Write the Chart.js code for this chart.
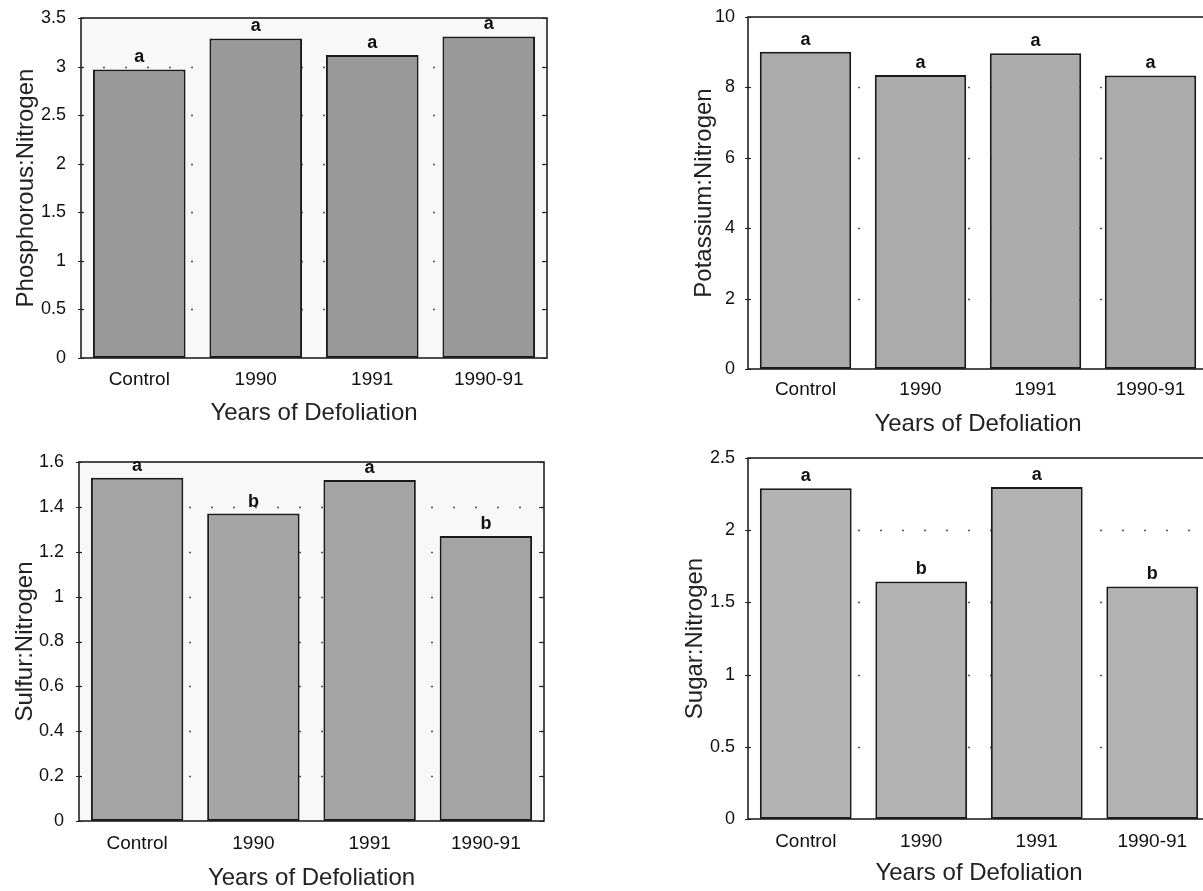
<!DOCTYPE html>
<html>
<head>
<meta charset="utf-8">
<script src="https://cdn.jsdelivr.net/npm/chart.js@4"></script>
<style>
  html, body { margin: 0; padding: 0; background: #fff; overflow: hidden; width: 1203px; height: 891px; }
  canvas { position: absolute; }
</style>
</head>
<body>
<canvas id="phos" width="600" height="440" style="left:0;top:0"></canvas>
<canvas id="pot" width="600" height="440" style="left:640px;top:0"></canvas>
<canvas id="sulf" width="600" height="451" style="left:0;top:440px"></canvas>
<canvas id="sugar" width="600" height="451" style="left:640px;top:440px"></canvas>
<script>
// ===== DATA =====
const categories = ['Control', '1990', '1991', '1990-91'];
const xTitle = 'Years of Defoliation';

const phosValues = [2.97, 3.29, 3.12, 3.31];
const phosLetters = ['a', 'a', 'a', 'a'];
const phosTicks = [0, 0.5, 1, 1.5, 2, 2.5, 3, 3.5];

const potValues = [9.01, 8.35, 8.97, 8.34];
const potLetters = ['a', 'a', 'a', 'a'];
const potTicks = [0, 2, 4, 6, 8, 10];

const sulfValues = [1.53, 1.37, 1.52, 1.27];
const sulfLetters = ['a', 'b', 'a', 'b'];
const sulfTicks = [0, 0.2, 0.4, 0.6, 0.8, 1, 1.2, 1.4, 1.6];

const sugarValues = [2.29, 1.645, 2.30, 1.61];
const sugarLetters = ['a', 'b', 'a', 'b'];
const sugarTicks = [0, 0.5, 1, 1.5, 2, 2.5];

Chart.defaults.font.family = "'Liberation Sans', Arial, Helvetica, sans-serif";

// ===== FRAME / GRID / LETTERS =====
const framePlugin = {
  id: 'frame',
  beforeDraw(chart, args, opts) {
    const { ctx, chartArea: a } = chart;
    ctx.save();
    ctx.fillStyle = '#fff';
    ctx.fillRect(0, 0, chart.width, chart.height);
    ctx.fillStyle = opts.plotBg;
    ctx.fillRect(a.left, a.top, a.right - a.left, a.bottom - a.top);
    ctx.restore();
  },
  beforeDatasetsDraw(chart) {
    // dotted grid, mostly hidden behind the bars
    const { ctx, chartArea: a, scales: { y } } = chart;
    ctx.save();
    ctx.strokeStyle = '#555';
    ctx.lineWidth = 1.5;
    ctx.setLineDash([2, 20]);
    y.ticks.forEach(t => {
      if (t.value <= y.min || t.value >= y.max) return;
      const py = Math.round(y.getPixelForValue(t.value)) + 0.5;
      ctx.beginPath();
      ctx.moveTo(a.left, py);
      ctx.lineTo(a.right, py);
      ctx.stroke();
    });
    ctx.restore();
  },
  afterDatasetsDraw(chart, args, opts) {
    const { ctx, chartArea: a, scales: { y } } = chart;
    ctx.save();
    // box round the plot
    ctx.strokeStyle = '#222';
    ctx.lineWidth = 1.6;
    ctx.strokeRect(a.left, a.top, a.right - a.left, a.bottom - a.top);
    // small tick marks on both sides
    ctx.lineWidth = 1.2;
    y.ticks.forEach(t => {
      const py = Math.round(y.getPixelForValue(t.value)) + 0.5;
      ctx.beginPath();
      ctx.moveTo(a.left - 3, py); ctx.lineTo(a.left + 3, py);
      ctx.moveTo(a.right - 5, py); ctx.lineTo(a.right, py);
      ctx.stroke();
    });
    // significance letters above bars
    ctx.fillStyle = '#111';
    ctx.font = "bold 18px 'Liberation Sans', Arial, sans-serif";
    ctx.textAlign = 'center';
    ctx.textBaseline = 'middle';
    chart.getDatasetMeta(0).data.forEach((bar, i) => {
      ctx.fillText(opts.letters[i], bar.x, bar.y - 12);
    });
    ctx.restore();
  }
};

function makeChart(c) {
  return new Chart(document.getElementById(c.id), {
    type: 'bar',
    data: {
      labels: categories,
      datasets: [{
        data: c.values,
        backgroundColor: c.barColor,
        borderColor: '#1a1a1a',
        borderWidth: 2,
        borderSkipped: false,
        barPercentage: 0.795,
        categoryPercentage: 1
      }]
    },
    options: {
      responsive: false,
      animation: false,
      devicePixelRatio: 1,
      layout: { padding: { left: 0, right: c.rightPad, top: c.topPad, bottom: c.bottomPad } },
      plugins: {
        legend: { display: false },
        tooltip: { enabled: false },
        frame: { plotBg: c.plotBg, letters: c.letters }
      },
      scales: {
        x: {
          grid: { display: false },
          border: { display: false },
          ticks: { font: { size: 19 }, color: '#111', padding: c.xTickPad, maxRotation: 0 },
          title: { display: true, text: xTitle, font: { size: 24 }, color: '#222', padding: { top: 0, bottom: c.xTitleShift } },
          afterFit: s => { s.height = c.xHeight; }
        },
        y: {
          min: 0,
          max: c.ticks[c.ticks.length - 1],
          grid: { display: false },
          border: { display: false },
          afterBuildTicks: s => { s.ticks = c.ticks.map(v => ({ value: v })); },
          ticks: { font: { size: 18 }, color: '#111', padding: c.yTickPad, callback: v => String(v) },
          title: { display: true, text: c.yTitle, font: { size: 24 }, color: '#222', padding: { top: c.yTitlePad, bottom: 0 } },
          afterFit: s => { s.width = c.yWidth; }
        }
      }
    },
    plugins: [framePlugin]
  });
}

// ===== INIT =====
makeChart({
  id: 'phos', yTitle: 'Phosphorous:Nitrogen', values: phosValues, letters: phosLetters, ticks: phosTicks,
  barColor: '#999999', plotBg: '#f8f8f8',
  yWidth: 81, rightPad: 53, topPad: 18, bottomPad: 14, xHeight: 68,
  xTickPad: 2, xTitleShift: -2, yTickPad: 7, yTitlePad: 12
});
makeChart({
  id: 'pot', yTitle: 'Potassium:Nitrogen', values: potValues, letters: potLetters, ticks: potTicks,
  barColor: '#ababab', plotBg: '#ffffff',
  yWidth: 108, rightPad: 32, topPad: 17, bottomPad: 3, xHeight: 68,
  xTickPad: 1, xTitleShift: -2, yTickPad: 5, yTitlePad: 50
});
makeChart({
  id: 'sulf', yTitle: 'Sulfur:Nitrogen', values: sulfValues, letters: sulfLetters, ticks: sulfTicks,
  barColor: '#a4a4a4', plotBg: '#f8f8f8',
  yWidth: 79, rightPad: 56, topPad: 22, bottomPad: 0, xHeight: 70,
  xTickPad: 3, xTitleShift: -2, yTickPad: 7, yTitlePad: 11
});
makeChart({
  id: 'sugar', yTitle: 'Sugar:Nitrogen', values: sugarValues, letters: sugarLetters, ticks: sugarTicks,
  barColor: '#b3b3b3', plotBg: '#ffffff',
  yWidth: 108, rightPad: 30, topPad: 18, bottomPad: 5, xHeight: 67,
  xTickPad: 3, xTitleShift: -2, yTickPad: 5, yTitlePad: 41
});
</script>
</body>
</html>
